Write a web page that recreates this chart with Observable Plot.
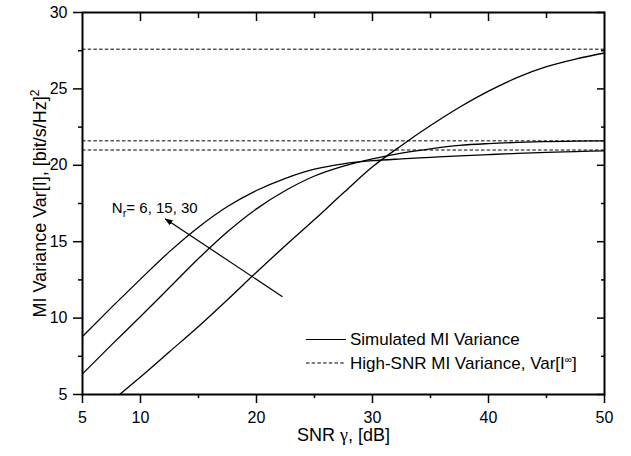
<!DOCTYPE html>
<html><head><meta charset="utf-8">
<script src="https://cdn.jsdelivr.net/npm/d3@7"></script>
<script src="https://cdn.jsdelivr.net/npm/@observablehq/plot@0.6"></script>
<style>
body{margin:0;background:#fff;}
#chart{position:relative;width:631px;height:456px;}
</style>
</head><body><div id="chart"></div>
<script>
// SNR grid (dB)
const snrAB = [5,7.5,10,12.5,15,17.5,20,22.5,25,27.5,30,32.5,35,37.5,40,42.5,45,47.5,50];
const varNr6  = [8.8,10.7,12.55,14.35,15.95,17.3,18.35,19.15,19.75,20.1,20.3,20.42,20.52,20.62,20.7,20.78,20.85,20.9,20.95];
const varNr15 = [6.35,8.25,10.1,12.0,13.9,15.65,17.15,18.35,19.3,19.95,20.42,20.8,21.08,21.3,21.42,21.5,21.55,21.58,21.6];
const snrC = [8.2,10,12.5,15,17.5,20,22.5,25,27.5,30,32.5,35,37.5,40,42.5,45,47.5,50];
const varNr30 = [5.0,6.15,7.8,9.45,11.2,13.0,14.75,16.45,18.2,19.9,21.3,22.6,23.8,24.85,25.75,26.45,26.95,27.35];
// high-SNR asymptotes Var[I^inf]
const asymptotes = [27.6, 21.6, 21.0];
// ticks
const xMajor = [5,10,20,30,40,50];
const xMinor = [15,25,35,45];
const xTopMajor = [10,20,30,40];
const xTopMinor = [15,25,35,45];
const yMajor = [5,10,15,20,25,30];
const yMinor = [7.5,12.5,17.5,22.5,27.5];
// annotation
const arrowFrom = {snr: 22.24, v: 11.4};
const arrowTo = {snr: 12.13, v: 16.5};
const annotText = "Nr= 6, 15, 30";
const annotPos = {snr: 7.53, v: 17.2};
const xTitle = "SNR γ, [dB]";
const yTitle = "MI Variance Var[I], [bit/s/Hz]2";
const legendLabels = ["Simulated MI Variance", "High-SNR MI Variance, Var[I∞]"];

const rows = [
  ...snrAB.map((s,i)=>({snr:s, v:varNr6[i], nr:"6"})),
  ...snrAB.map((s,i)=>({snr:s, v:varNr15[i], nr:"15"})),
  ...snrC.map((s,i)=>({snr:s, v:varNr30[i], nr:"30"}))
];
const DASH = "3.5,2.2";
const font = "'Liberation Sans', Arial, sans-serif";

const chart = Plot.plot({
  width: 631, height: 456,
  marginLeft: 82, marginRight: 27, marginTop: 12, marginBottom: 62,
  style: {fontFamily: font, fontSize: "16px", color: "#000", background: "#fff"},
  x: {domain: [5, 50]},
  y: {domain: [5, 30]},
  marks: [
    Plot.ruleY(asymptotes, {stroke: "#000", strokeWidth: 1, strokeDasharray: DASH}),
    Plot.line(rows, {x: "snr", y: "v", z: "nr", stroke: "#000", strokeWidth: 1.3, curve: "monotone-x"}),
    Plot.link([{a: arrowFrom, b: arrowTo}], {x1: d=>d.a.snr, y1: d=>d.a.v, x2: d=>d.b.snr, y2: d=>d.b.v, stroke: "#000", strokeWidth: 1.2, markerEnd: "arrow"}),
    Plot.text([annotText], {x: ()=>annotPos.snr, y: ()=>annotPos.v, text: d=>d, textAnchor: "start", fontSize: 15}),
    Plot.axisX({anchor: "bottom", ticks: xMajor, tickSize: 9, tickPadding: 8, fontSize: 16, label: null, strokeWidth: 1.5}),
    Plot.axisX({anchor: "bottom", ticks: xMinor, tickSize: 4, tickFormat: () => "", label: null, strokeWidth: 1.5}),
    Plot.axisX({anchor: "top", ticks: xTopMajor, tickSize: -8, tickFormat: () => "", label: null, strokeWidth: 1.5}),
    Plot.axisX({anchor: "top", ticks: xTopMinor, tickSize: -5, tickFormat: () => "", label: null, strokeWidth: 1.5}),
    Plot.axisY({anchor: "left", ticks: yMajor, tickSize: 9, tickPadding: 6, fontSize: 16, label: null, strokeWidth: 1.5}),
    Plot.axisY({anchor: "left", ticks: yMinor, tickSize: 4, tickFormat: () => "", label: null, strokeWidth: 1.5}),
    Plot.axisY({anchor: "right", ticks: yMajor, tickSize: -8, tickFormat: () => "", label: null, strokeWidth: 1.5}),
    Plot.axisY({anchor: "right", ticks: yMinor, tickSize: -4, tickFormat: () => "", label: null, strokeWidth: 1.5}),
    Plot.text([xTitle], {frameAnchor: "bottom", dy: 46, text: d=>d, fontSize: 18, textAnchor: "middle"}),
    Plot.text([yTitle], {frameAnchor: "left", dx: -42, rotate: -90, text: d=>d, fontSize: 18, textAnchor: "middle"}),
    Plot.frame({stroke: "#000", strokeWidth: 2})
  ]
});
document.getElementById("chart").appendChild(chart);

const svg = d3.select(chart);
// filled arrowhead
svg.selectAll("marker").attr("markerWidth", 12).attr("markerHeight", 12).attr("fill", "#000").attr("stroke", "none");
svg.selectAll("marker path").attr("d", "M-5.5,-2.2L0.5,0L-5.5,2.2Z").attr("fill", "#000").attr("stroke", "none");
// rich text
svg.selectAll("text").each(function() {
  const t = this.textContent;
  if (t === annotText) {
    this.innerHTML = "N<tspan dy='4' font-size='11'>r</tspan><tspan dy='-4'>= 6, 15, 30</tspan>";
  } else if (t === yTitle) {
    this.innerHTML = "MI Variance Var[I], [bit/s/Hz]<tspan dy='-7' font-size='12'>2</tspan>";
  } else if (t === xTitle) {
    this.innerHTML = "SNR <tspan font-family=\"'Liberation Serif', serif\">γ</tspan>, [dB]";
  }
});
// legend
const lg = svg.append("g").attr("font-family", font).attr("font-size", 17).attr("text-anchor", "start");
lg.append("line").attr("x1", 306).attr("x2", 346).attr("y1", 339.5).attr("y2", 339.5).attr("stroke", "#000").attr("stroke-width", 1.2);
lg.append("line").attr("x1", 306).attr("x2", 346).attr("y1", 363).attr("y2", 363).attr("stroke", "#000").attr("stroke-width", 1).attr("stroke-dasharray", DASH);
lg.append("text").attr("x", 350).attr("y", 339.5).attr("dy", "0.35em").text(legendLabels[0]);
const t2 = lg.append("text").attr("x", 350).attr("y", 363).attr("dy", "0.35em");
t2.append("tspan").text("High-SNR MI Variance, Var[I");
t2.append("tspan").attr("dy", -6).attr("font-size", 10).text("∞");
t2.append("tspan").attr("dy", 6).text("]");
</script>
</body></html>
